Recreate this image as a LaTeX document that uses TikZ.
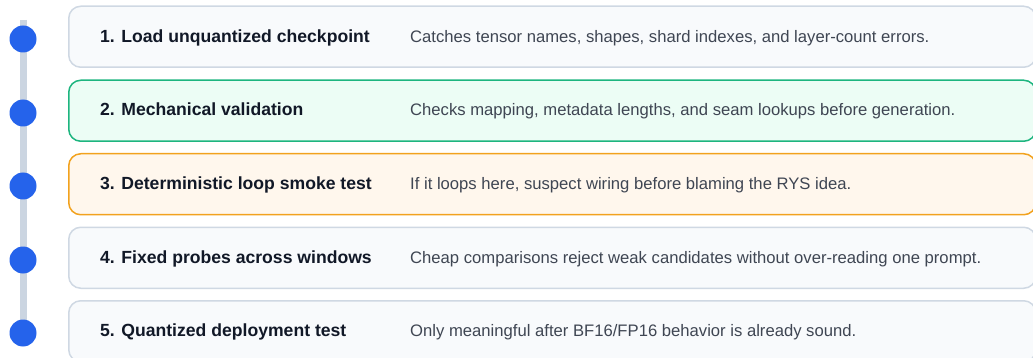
\documentclass[tikz,border=0pt]{standalone}
\usepackage{fontspec}
\setmainfont{Liberation Sans}
\definecolor{railgray}{HTML}{CBD5E1}
\definecolor{dotblue}{HTML}{2563EB}
\definecolor{titleink}{HTML}{111827}
\definecolor{bodyink}{HTML}{3F4653}
\definecolor{plainfill}{HTML}{F8FAFC}
\definecolor{plainedge}{HTML}{CFD8E3}
\definecolor{okfill}{HTML}{ECFDF5}
\definecolor{okedge}{HTML}{1DB57F}
\definecolor{warnfill}{HTML}{FFF7ED}
\definecolor{warnedge}{HTML}{F2A21E}
\tikzset{
  stepbox/.style={draw=plainedge, fill=plainfill, line width=1.5pt,
    rounded corners=12pt, minimum width=967pt, minimum height=61pt,
    anchor=north west, inner sep=0pt},
  okbox/.style={stepbox, draw=okedge, fill=okfill},
  warnbox/.style={stepbox, draw=warnedge, fill=warnfill},
  steptitle/.style={anchor=base west, inner sep=0pt, text=titleink,
    font=\fontsize{17.6pt}{20pt}\selectfont\bfseries},
  stepnote/.style={anchor=base west, inner sep=0pt, text=bodyink,
    font=\fontsize{16.65pt}{19pt}\selectfont},
  raildot/.style={circle, fill=dotblue, minimum size=27pt, inner sep=0pt},
}
\begin{document}
\begin{tikzpicture}[x=1pt, y=-1pt]
  \useasboundingbox (0,0) rectangle (1033,358);
  \clip (0,0) rectangle (1033,358);

  % step cards
  \node[stepbox]  (b1) at (68,5.5)   {};
  \node[okbox]    (b2) at (68,79.5)  {};
  \node[warnbox]  (b3) at (68,153)   {};
  \node[stepbox]  (b4) at (68,226.5) {};
  \node[stepbox]  (b5) at (68,300)   {};

  % timeline rail, drawn first so the markers sit on top of it
  \coordinate (railtop) at (23,20);
  \coordinate (railend) at (23,333);
  \draw[railgray, line width=7pt] (railtop) -- (railend);
  \node[raildot] (d1) at (23,39)  {};
  \node[raildot] (d2) at (23,113) {};
  \node[raildot] (d3) at (23,186) {};
  \node[raildot] (d4) at (23,260) {};
  \node[raildot] (d5) at (railend) {};

  % step titles
  \node[steptitle] (t1) at (100,42.5)  {1. Load unquantized checkpoint};
  \node[steptitle] (t2) at (100,116)   {2. Mechanical validation};
  \node[steptitle] (t3) at (100,189.5) {3. Deterministic loop smoke test};
  \node[steptitle] (t4) at (100,263)   {4. Fixed probes across windows};
  \node[steptitle] (t5) at (100,336.5) {5. Quantized deployment test};

  % step notes
  \node[stepnote] (n1) at (410,42.5)  {Catches tensor names, shapes, shard indexes, and layer-count errors.};
  \node[stepnote] (n2) at (410,116)   {Checks mapping, metadata lengths, and seam lookups before generation.};
  \node[stepnote] (n3) at (410,189.5) {If it loops here, suspect wiring before blaming the RYS idea.};
  \node[stepnote] (n4) at (410,263)   {Cheap comparisons reject weak candidates without over-reading one prompt.};
  \node[stepnote] (n5) at (410,336.5) {Only meaningful after BF16/FP16 behavior is already sound.};
\end{tikzpicture}
\end{document}
